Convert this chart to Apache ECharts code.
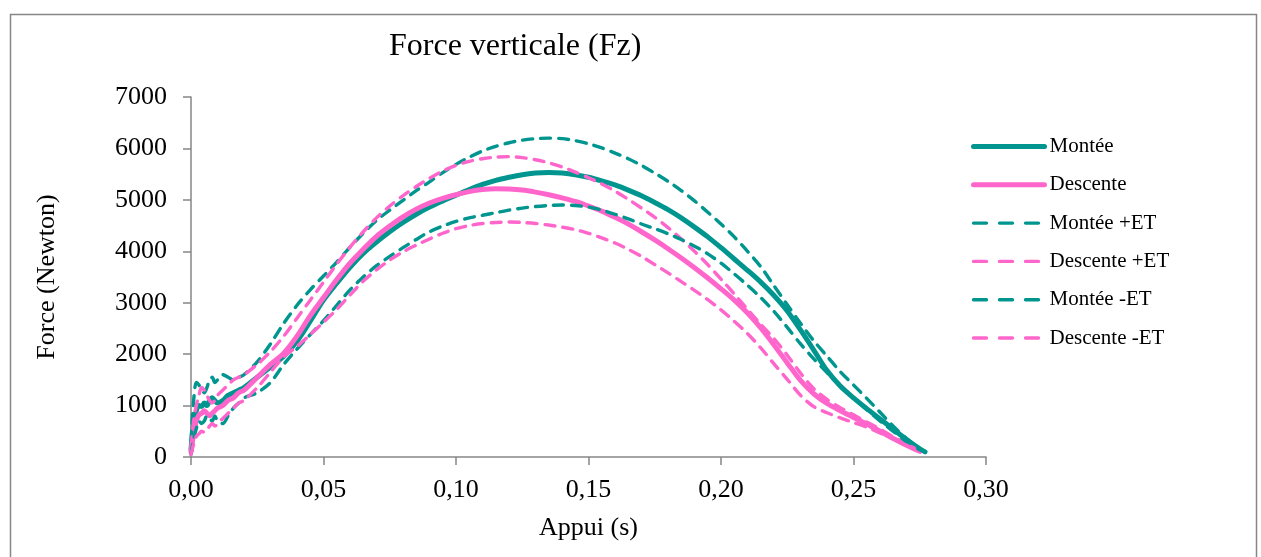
<!DOCTYPE html>
<html><head><meta charset="utf-8">
<script src="https://cdn.jsdelivr.net/npm/echarts@6/dist/echarts.min.js"></script>
<style>html,body{margin:0;padding:0;background:#fff}#c{width:1261px;height:557px}</style>
</head><body><div id="c"></div>
<script>
const times = [0,0.001,0.002,0.003,0.004,0.005,0.006,0.007,0.008,0.009,0.010,0.012,0.014,0.016,0.018,
0.020,0.025,0.030,0.035,0.040,0.045,0.050,0.055,0.060,0.065,0.070,0.075,0.080,0.085,0.090,0.095,
0.100,0.105,0.110,0.115,0.120,0.125,0.130,0.135,0.140,0.145,0.150,0.155,0.160,0.165,0.170,0.175,
0.180,0.185,0.190,0.195,0.200,0.205,0.210,0.215,0.220,0.225,0.230,0.235,0.240,0.245,0.250,0.255,
0.260,0.265,0.270,0.275,0.277];

const montee = [150,650,900,1000,980,1050,1000,1100,1150,1100,1050,1100,1200,1250,1300,
1350,1550,1750,1960,2250,2640,3050,3380,3690,3960,4180,4380,4560,4720,4860,4980,
5090,5200,5300,5380,5440,5490,5520,5530,5520,5490,5440,5370,5290,5190,5080,4950,
4810,4650,4470,4280,4070,3850,3630,3400,3140,2840,2470,2080,1680,1380,1150,940,
740,540,340,160,100];

const descente = [100,450,700,820,850,900,850,800,850,900,950,1000,1100,1150,1250,
1300,1550,1800,2020,2350,2750,3100,3450,3770,4040,4290,4490,4670,4820,4940,5030,
5100,5160,5200,5215,5210,5190,5150,5100,5040,4970,4880,4780,4660,4530,4380,4220,
4050,3870,3680,3480,3270,3050,2800,2510,2180,1830,1490,1230,1040,900,770,640,
500,360,230,110,null];

const monteePlus = [300,1100,1450,1400,1300,1250,1350,1500,1550,1450,1500,1600,1550,1500,1550,
1600,1850,2200,2600,2950,3250,3520,3790,4080,4350,4600,4800,4990,5180,5350,5530,
5690,5830,5950,6040,6110,6160,6190,6200,6190,6150,6090,6010,5910,5800,5670,5520,
5360,5180,4980,4760,4530,4280,4000,3700,3330,2960,2600,2260,1960,1660,1400,1140,
870,600,360,160,100];

const descentePlus = [200,700,1000,1200,1350,1300,1200,1100,1050,1100,1200,1300,1400,1500,1550,
1600,1800,2050,2350,2700,3050,3400,3750,4080,4380,4650,4880,5080,5260,5420,5560,
5670,5750,5800,5830,5840,5820,5780,5720,5640,5540,5430,5310,5170,5010,4840,4660,
4460,4240,4000,3740,3460,3170,2870,2580,2300,1980,1630,1330,1120,960,820,680,
540,390,250,120,null];

const monteeMinus = [50,350,550,700,650,700,800,750,700,800,700,650,800,950,1050,
1150,1250,1450,1800,2100,2380,2650,2950,3250,3500,3720,3900,4070,4230,4380,4490,
4580,4650,4700,4750,4800,4840,4870,4890,4900,4890,4860,4800,4720,4630,4530,4440,
4340,4230,4100,3950,3770,3560,3340,3100,2830,2520,2200,1910,1640,1380,1150,920,
700,500,300,140,100];

const descenteMinus = [50,250,400,450,500,480,520,600,650,600,650,750,850,950,1050,
1100,1350,1650,1950,2150,2380,2620,2870,3150,3420,3640,3830,3990,4120,4240,4350,
4440,4500,4540,4560,4570,4560,4540,4510,4470,4420,4350,4260,4160,4040,3900,3740,
3580,3410,3240,3060,2860,2640,2400,2120,1810,1510,1200,980,860,760,670,580,
470,350,230,110,null];

const seriesNames = ['Montée','Descente','Montée +ET','Descente +ET','Montée -ET','Descente -ET'];
const seriesValues = [montee, descente, monteePlus, descentePlus, monteeMinus, descenteMinus];

const TEAL = '#00968F', PINK = '#FF66CC';
const FONT = 'Liberation Serif';
const DASH = [10, 8];
const LEGEND_DASH = [13, 13];
const styles = [
  {color: TEAL, width: 5, type: 'solid'},
  {color: PINK, width: 5, type: 'solid'},
  {color: TEAL, width: 3.4, type: DASH},
  {color: PINK, width: 3.4, type: DASH},
  {color: TEAL, width: 3.4, type: DASH},
  {color: PINK, width: 3.4, type: DASH}
];

const chart = echarts.init(document.getElementById('c'), null, {renderer: 'canvas'});
chart.setOption({
  animation: false,
  backgroundColor: '#fff',
  graphic: [{
    type: 'rect', left: 8, top: 12, silent: true,
    shape: {width: 1246, height: 560},
    style: {fill: 'none', stroke: '#868686', lineWidth: 1.5}
  }],
  title: {
    text: 'Force verticale (Fz)', left: 389, top: 31, padding: 0,
    textStyle: {fontFamily: FONT, fontSize: 32, fontWeight: 'normal', color: '#000'}
  },
  legend: {
    orient: 'vertical', left: 971, top: 136, padding: 0,
    itemWidth: 71, itemHeight: 21, itemGap: 17.3,
    itemStyle: {color: 'transparent', borderWidth: 0, opacity: 0},
    textStyle: {fontFamily: FONT, fontSize: 21, color: '#000'},
    data: seriesNames.map((n, k) => ({
      name: n,
      lineStyle: {width: styles[k].width, type: styles[k].type === 'solid' ? 'solid' : LEGEND_DASH,
        color: styles[k].color, cap: 'round'}
    }))
  },
  grid: {left: 191, right: 275, top: 97, bottom: 100, containLabel: false},
  xAxis: {
    type: 'value', min: 0, max: 0.3, interval: 0.05,
    name: 'Appui (s)', nameLocation: 'middle', nameGap: 58,
    nameTextStyle: {fontFamily: FONT, fontSize: 26, color: '#000'},
    axisLine: {lineStyle: {color: '#868686', width: 1.5}},
    axisTick: {show: true, length: 8, inside: false, lineStyle: {color: '#868686', width: 1.5}},
    axisLabel: {fontFamily: FONT, fontSize: 26, color: '#000', margin: 20,
      formatter: v => v.toFixed(2).replace('.', ',')},
    splitLine: {show: false}
  },
  yAxis: {
    type: 'value', min: 0, max: 7000, interval: 1000,
    name: 'Force (Newton)', nameLocation: 'middle', nameGap: 131,
    nameTextStyle: {fontFamily: FONT, fontSize: 26, color: '#000'},
    axisLine: {show: true, lineStyle: {color: '#868686', width: 1.5}},
    axisTick: {show: true, length: 8, inside: false, lineStyle: {color: '#868686', width: 1.5}},
    axisLabel: {fontFamily: FONT, fontSize: 26, color: '#000', margin: 24,
      formatter: v => String(v)},
    splitLine: {show: false}
  },
  series: seriesNames.map((name, k) => ({
    name: name, type: 'line', showSymbol: false, symbol: 'none', smooth: 0.3,
    data: times.map((t, i) => [t, seriesValues[k][i]]),
    lineStyle: {color: styles[k].color, width: styles[k].width, type: styles[k].type, cap: 'round', join: 'round'},
    itemStyle: {color: styles[k].color}
  }))
});
</script>
</body></html>
